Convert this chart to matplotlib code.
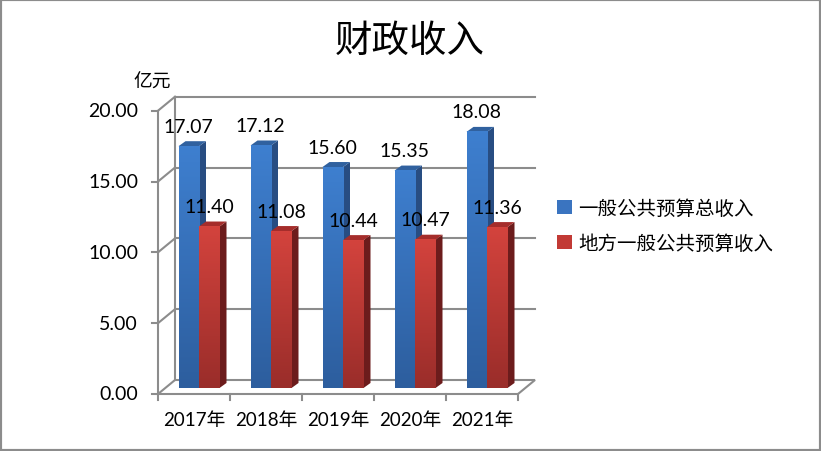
import matplotlib
matplotlib.use("Agg")
import matplotlib.pyplot as plt
import numpy as np
from matplotlib.patches import Polygon, Rectangle
from matplotlib.colors import to_rgb

plt.rcParams['font.family'] = ['Lato', 'Noto Sans CJK SC']

# data
years = ['2017年', '2018年', '2019年', '2020年', '2021年']
total_income = [17.07, 17.12, 15.60, 15.35, 18.08]
local_income = [11.40, 11.08, 10.44, 10.47, 11.36]
series_names = ['一般公共预算总收入', '地方一般公共预算收入']
yticks = [0, 5, 10, 15, 20]

W, H = 821, 452
fig = plt.figure(figsize=(W / 100, H / 100), dpi=100)
# front plane of the 3d box, in pixels
left, right, y0px, y20px = 158, 518, 395, 111.7
ax = fig.add_axes([left / W, (H - y0px) / H, (right - left) / W, (y0px - y20px) / H])
ax.set_xlim(0, len(years))
ax.set_ylim(0, 20)
ax.axis('off')

sx = (right - left) / len(years)   # px per category
sy = (y0px - y20px) / 20           # px per unit


def px(dx, dy):
    return dx / sx, dy / sy


grid = '#8c8c8c'
WX, WY = px(17, 14)    # depth of the walls
BX, BY = px(5, 6)      # where the bars stand inside the box
DX, DY = px(7, 5)      # depth of a bar
bw = 20.5 / sx

# floor
ax.add_patch(Polygon([(0, 0), (5, 0), (5 + WX, WY), (WX, WY)], closed=True,
                     fc='white', ec=grid, lw=1.5, clip_on=False, zorder=1))
# back wall grid and left wall lines
for v in yticks:
    if v > 0:
        ax.plot([WX, 5 + WX], [v + WY, v + WY], color=grid, lw=1.5, clip_on=False, zorder=1)
        ax.plot([0, WX], [v, v + WY], color=grid, lw=1.5, clip_on=False, zorder=1)
    tx, _ = px(6.5, 0)
    ax.plot([-tx, 0], [v, v], color=grid, lw=1.5, clip_on=False, zorder=1)
    lx, _ = px(20, 0)
    ax.text(-lx, v, '%.2f' % v, ha='right', va='center', fontsize=14, clip_on=False)
ax.plot([WX, WX], [WY, 20 + WY], color=grid, lw=1.5, clip_on=False, zorder=1)
ax.plot([0, 0], [0, 20], color=grid, lw=1.5, clip_on=False, zorder=1)

# x axis ticks and labels
_, tdy = px(0, 6)
_, ldy = px(0, 26)
for i in range(len(years) + 1):
    ax.plot([i, i], [0, -tdy], color=grid, lw=1.5, clip_on=False, zorder=1)
for i, y in enumerate(years):
    ax.text(i + 0.5, -ldy, y, ha='center', va='center', fontsize=13.5, clip_on=False)


def bar3d(x0, v, front_top, front_bot, side, top, z):
    x1 = x0 + bw
    b, t = BY, BY + v
    ax.add_patch(Polygon([(x1, b), (x1 + DX, b + DY), (x1 + DX, t + DY), (x1, t)],
                         closed=True, fc=side, ec='none', clip_on=False, zorder=z))
    ax.add_patch(Polygon([(x0, t), (x1, t), (x1 + DX, t + DY), (x0 + DX, t + DY)],
                         closed=True, fc=top, ec='none', clip_on=False, zorder=z))
    g = np.linspace(0, 1, 64)[:, None, None]
    cols = np.array(to_rgb(front_top)) * (1 - g) + np.array(to_rgb(front_bot)) * g
    ax.imshow(cols, extent=[x0, x1, b, t], origin='upper', aspect='auto',
              interpolation='bilinear', zorder=z + 0.1, clip_on=False)


z = 2
for i in range(len(years)):
    xb = i + 0.5 - bw + BX
    xr = i + 0.5 + BX
    bar3d(xb, total_income[i], '#3e7fcf', '#2d5e9e', '#284d82', '#30619f', z)
    bar3d(xr, local_income[i], '#d3433d', '#9a2d2a', '#6c1c1c', '#a52d2b', z + 1)
    z += 2
    ax.annotate('%.2f' % total_income[i], (xb + bw / 2, BY + total_income[i]),
                xytext=(0, 14.4), textcoords='offset points', ha='center', va='center',
                fontsize=14, zorder=20, annotation_clip=False)
    ax.annotate('%.2f' % local_income[i], (xr + bw / 2, BY + local_income[i]),
                xytext=(0, 14.4), textcoords='offset points', ha='center', va='center',
                fontsize=14, zorder=20, annotation_clip=False)

ax.set_xlim(0, len(years))
ax.set_ylim(0, 20)

# legend
handles = [Rectangle((0, 0), 1, 1, fc='#3a74c0'), Rectangle((0, 0), 1, 1, fc='#c23a35')]
fig.legend(handles, series_names, loc='center left', bbox_to_anchor=(557 / W, 1 - 226 / H),
           frameon=False, fontsize=14, handlelength=0.75, handleheight=0.75,
           handletextpad=0.35, labelspacing=0.85, borderpad=0, borderaxespad=0)

fig.text(152 / W, 1 - 82 / H, '亿元', ha='center', va='center', fontsize=13.5)
fig.text(410 / W, 1 - 41 / H, '财政收入', ha='center', va='center', fontsize=27)

fig.patches.append(Rectangle((0, 0), 1, 1, transform=fig.transFigure, fill=False,
                             ec='#8c8c8c', lw=3))

fig.savefig('out.png', dpi=100)
